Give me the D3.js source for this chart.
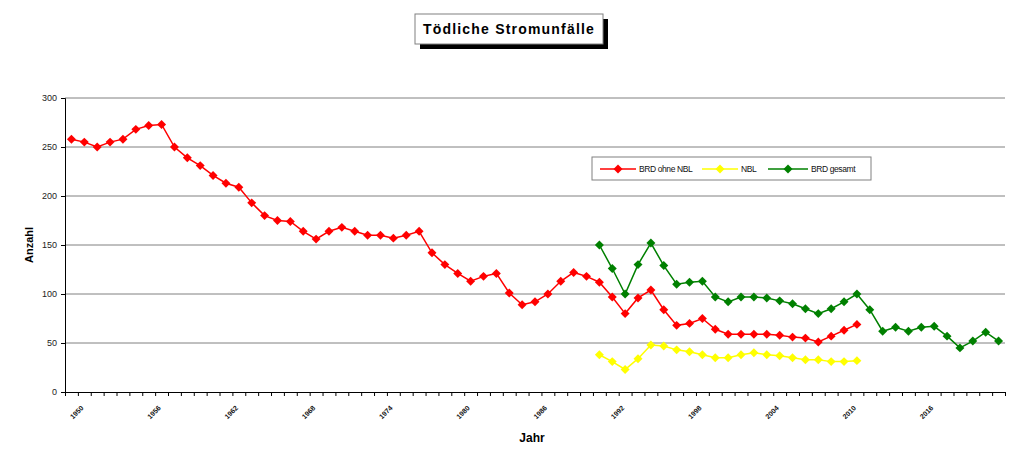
<!DOCTYPE html>
<html>
<head>
<meta charset="utf-8">
<script src="https://cdn.jsdelivr.net/npm/d3@7"></script>
<style>
  body { margin: 0; background: #fff; }
  svg { font-family: "Liberation Sans", Arial, sans-serif; }
</style>
</head>
<body>
<div id="chart"></div>
<script>
// years on the category axis
const years = d3.range(1950, 2023);

// BRD ohne NBL
const brdOhneNbl = [258, 255, 250, 255, 258, 268, 272, 273, 250, 239,
  231, 221, 213, 209, 193, 180, 175, 174, 164, 156,
  164, 168, 164, 160, 160, 157, 160, 164, 142, 130,
  121, 113, 118, 121, 101, 89, 92, 100, 113, 122,
  118, 112, 97, 80, 96, 104, 84, 68, 70, 75,
  64, 59, 59, 59, 59, 58, 56, 55, 51, 57,
  63, 69];

// NBL, from index 41
const nbl = [38, 31, 23, 34, 48, 47, 43, 41, 38, 35,
  35, 38, 40, 38, 37, 35, 33, 33, 31, 31, 32];

// BRD gesamt, from index 41
const brdGesamt = [150, 126, 100, 130, 152, 129, 110, 112, 113, 97,
  92, 97, 97, 96, 93, 90, 85, 80, 85, 92,
  100, 84, 62, 66, 62, 66, 67, 57, 45, 52,
  61, 52];

const yTicks = [0, 50, 100, 150, 200, 250, 300];
const labelYears = years.filter((d, i) => i % 6 === 0 && i < years.length - 1);

const seriesList = [
  {name: 'BRD ohne NBL', color: '#ff0000', start: 0, values: brdOhneNbl},
  {name: 'NBL', color: '#ffff00', start: 41, values: nbl},
  {name: 'BRD gesamt', color: '#008000', start: 41, values: brdGesamt}
];

const width = 1024, height = 470;
const plotLeft = 65, plotRight = 1005, plotTop = 98, plotBottom = 392;

const svg = d3.select('#chart').append('svg')
  .attr('width', width)
  .attr('height', height);

const x = d3.scaleBand().domain(years).range([plotLeft, plotRight]);
const xEdge = d3.scaleLinear().domain([0, years.length]).range([plotLeft, plotRight]);
const y = d3.scaleLinear().domain([0, 300]).range([plotBottom, plotTop]);

// gridlines
svg.append('g').selectAll('line')
  .data(yTicks.filter(d => d > 0))
  .enter().append('line')
  .attr('x1', plotLeft).attr('x2', plotRight)
  .attr('y1', d => y(d)).attr('y2', d => y(d))
  .attr('stroke', '#808080')
  .attr('stroke-width', 1);

// y axis
const yAxis = svg.append('g')
  .attr('transform', `translate(${plotLeft},0)`)
  .call(d3.axisLeft(y).tickValues(yTicks).tickSize(4).tickPadding(4));
yAxis.select('.domain').attr('stroke', '#000');
yAxis.selectAll('.tick line').attr('stroke', '#000');
yAxis.selectAll('.tick text').attr('font-size', 9).attr('fill', '#222')
  .attr('font-family', '"Liberation Sans", Arial, sans-serif');

// x axis, ticks between categories
const xAxis = svg.append('g')
  .attr('transform', `translate(0,${plotBottom})`)
  .call(d3.axisBottom(xEdge).tickValues(d3.range(0, years.length + 1)).tickSize(4).tickFormat(''));
xAxis.select('.domain').attr('stroke', '#000');
xAxis.selectAll('.tick line').attr('stroke', '#000');

// x labels rotated
svg.append('g').selectAll('text')
  .data(labelYears)
  .enter().append('text')
  .attr('transform', d => `translate(${x(d) + x.bandwidth() / 2 + 7},${plotBottom + 22}) rotate(-45)`)
  .attr('text-anchor', 'middle')
  .attr('font-size', 7)
  .attr('font-weight', 'bold')
  .attr('fill', '#111')
  .text(d => d);

// lines and markers
const line = d3.line()
  .x(d => x(d.year) + x.bandwidth() / 2)
  .y(d => y(d.value));
const diamond = d3.symbol().type(d3.symbolSquare).size(40);

seriesList.forEach(s => {
  const pts = s.values.map((v, i) => ({year: years[s.start + i], value: v}));
  svg.append('path')
    .datum(pts)
    .attr('d', line)
    .attr('fill', 'none')
    .attr('stroke', s.color)
    .attr('stroke-width', 1.5);
  svg.append('g').selectAll('path')
    .data(pts)
    .enter().append('path')
    .attr('d', diamond)
    .attr('transform', d => `translate(${x(d.year) + x.bandwidth() / 2},${y(d.value)}) rotate(45)`)
    .attr('fill', s.color);
});

// legend
const legend = svg.append('g').attr('transform', 'translate(592,157)');
legend.append('rect')
  .attr('width', 279).attr('height', 23)
  .attr('fill', '#fff')
  .attr('stroke', '#808080');
const legendX = [8, 110, 176];
const legendW = [36, 36, 40];
seriesList.forEach((s, i) => {
  const g = legend.append('g').attr('transform', `translate(${legendX[i]},12)`);
  g.append('line').attr('x1', 0).attr('x2', legendW[i])
    .attr('stroke', s.color).attr('stroke-width', 1.5);
  g.append('path').attr('d', diamond)
    .attr('transform', `translate(${legendW[i] / 2},0) rotate(45)`)
    .attr('fill', s.color);
  g.append('text')
    .attr('x', legendW[i] + 3).attr('y', 3)
    .attr('font-size', 8.5)
    .attr('letter-spacing', -0.4)
    .attr('fill', '#111')
    .text(s.name);
});

// axis titles
svg.append('text')
  .attr('transform', `translate(33,${(plotTop + plotBottom) / 2}) rotate(-90)`)
  .attr('text-anchor', 'middle')
  .attr('font-size', 11)
  .attr('font-weight', 'bold')
  .text('Anzahl');

svg.append('text')
  .attr('x', 532).attr('y', 442)
  .attr('text-anchor', 'middle')
  .attr('font-size', 12)
  .attr('font-weight', 'bold')
  .text('Jahr');

// title box with shadow
svg.append('rect')
  .attr('x', 420).attr('y', 19).attr('width', 188).attr('height', 30)
  .attr('fill', '#000');
svg.append('rect')
  .attr('x', 415).attr('y', 14).attr('width', 188).attr('height', 30)
  .attr('fill', '#fff')
  .attr('stroke', '#808080');
svg.append('text')
  .attr('x', 509).attr('y', 34)
  .attr('text-anchor', 'middle')
  .attr('font-size', 14)
  .attr('font-weight', 'bold')
  .attr('letter-spacing', 1.2)
  .text('Tödliche Stromunfälle');
</script>
</body>
</html>
